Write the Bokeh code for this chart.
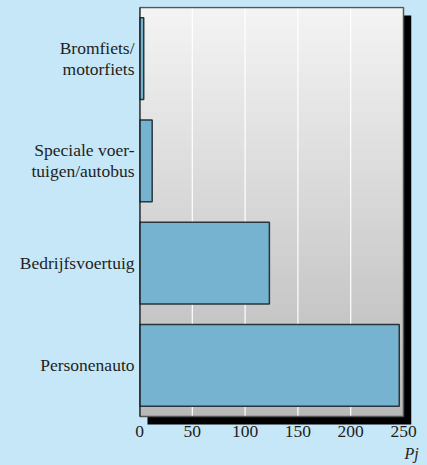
import numpy as np
from bokeh.plotting import figure
from bokeh.models import Range1d, FixedTicker
from bokeh.embed import file_html
from bokeh.resources import INLINE

# ---- data ----
categories = ["Bromfiets/\nmotorfiets", "Speciale voer-\ntuigen/autobus", "Bedrijfsvoertuig", "Personenauto"]
values = [4, 12, 123, 246]
x_ticks = [0, 50, 100, 150, 200, 250]
x_tick_labels = ["0", "50", "100", "150", "200", "250"]
axis_title = "Pj"

# ---- style ----
BG = "#c6e7f7"
BAR = "#76b3d0"
FONT = "Liberation Serif"
TXT = "#1e1e1e"

n = len(categories)
xmax = x_ticks[-1]
ypos = [n - i - 0.5 for i in range(n)]

px_x = 264 / xmax
px_y = 103.0
sx = 8 / px_x
sy = 8 / px_y
ybot = 14 / px_y   # invisible frame extends a little below the shadow

p = figure(width=425, height=464, output_backend="svg", toolbar_location=None,
           x_range=Range1d(0, xmax + sx), y_range=Range1d(-ybot, n + 1 / px_y),
           min_border_left=139, min_border_right=14, min_border_top=6, min_border_bottom=31)
p.background_fill_color = BG
p.border_fill_color = BG
p.outline_line_color = None
p.xgrid.visible = False
p.ygrid.visible = False

# drop shadow
p.quad(left=sx, right=xmax + sx, bottom=-sy, top=n - sy, fill_color="black", line_color=None)

# vertical grey gradient of the plot area
top_c = np.array([244, 244, 244])
bot_c = np.array([184, 184, 184])
rows = 128
img = np.zeros((rows, 1), dtype=np.uint32)
view = img.view(dtype=np.uint8).reshape((rows, 1, 4))
for r in range(rows):
    f = (r + 0.5) / rows
    c = (bot_c + (top_c - bot_c) * f).round().astype(np.uint8)
    view[r, 0, 0:3] = c
    view[r, 0, 3] = 255
p.image_rgba(image=[img], x=0, y=0, dw=xmax, dh=n)

# grid lines
inner = x_ticks[1:-1]
p.segment(x0=inner, y0=[0] * len(inner), x1=inner, y1=[n] * len(inner), line_color="white", line_width=1.2)

# bars
p.hbar(y=ypos, left=0, right=values, height=0.8, fill_color=BAR, line_color="#28363c", line_width=1.5)

# border
p.quad(left=0, right=xmax, bottom=0, top=n, fill_color=None, line_color="#555555", line_width=1.5)
p.segment(x0=[0], y0=[0], x1=[0], y1=[n], line_color="black", line_width=2)

# axes
p.xaxis.ticker = FixedTicker(ticks=x_ticks)
p.xaxis.major_label_overrides = dict(zip(x_ticks, x_tick_labels))
p.yaxis.ticker = FixedTicker(ticks=ypos)
p.yaxis.major_label_overrides = dict(zip(ypos, categories))
for ax in (p.xaxis[0], p.yaxis[0]):
    ax.axis_line_color = None
    ax.major_tick_line_color = None
    ax.minor_tick_line_color = None
    ax.major_tick_out = 0
    ax.major_tick_in = 0
    ax.minor_tick_out = 0
    ax.major_label_text_font = FONT
    ax.major_label_text_font_size = "17.5px"
    ax.major_label_text_color = TXT
p.xaxis.major_label_standoff = -5
p.yaxis.major_label_standoff = 5
p.yaxis.major_label_text_line_height = 1.05

xa = p.xaxis[0]
xa.bounds = (0, xmax)
xa.axis_label = axis_title
xa.axis_label_align = "end"
xa.axis_label_standoff = 5
xa.axis_label_text_font = FONT
xa.axis_label_text_font_style = "italic"
xa.axis_label_text_font_size = "16px"
xa.axis_label_text_color = TXT

html = file_html(p, INLINE, title="chart")
html = html.replace("</head>", "<style>html,body{background:%s;}</style></head>" % BG, 1)
open("out.html", "w").write(html)
